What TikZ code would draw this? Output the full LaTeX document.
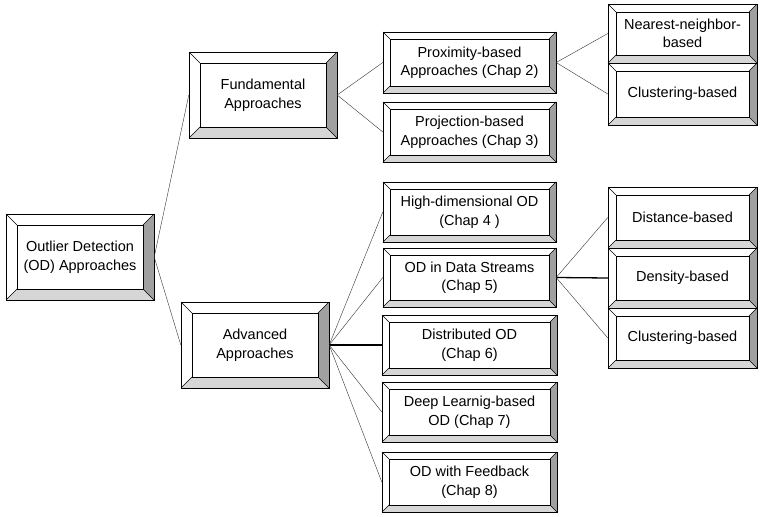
\documentclass[tikz,border=0pt]{standalone}
\usepackage{fontspec}
\setmainfont{Liberation Sans}
\usetikzlibrary{calc}
\definecolor{bevbot}{HTML}{D6D6D6}
\definecolor{bevright}{HTML}{A0A0A0}
\tikzset{
  boxline/.style={draw=black,line width=0.8pt,line join=miter},
  thinlink/.style={draw=black!80,line width=0.4pt},
  thicklink/.style={draw=black,line width=1.3pt},
  boxtext/.style={inner sep=0pt,align=center,font=\fontsize{14.5}{18.5}\selectfont}
}
% name, x1, y1, x2, y2, bevel, text
\newcommand\bevbox[7]{%
  \fill[white] (#2,#3) rectangle (#4,#5);
  \fill[bevbot] (#2,#5) -- (#4,#5) -- ({#4-#6},{#5-#6}) -- ({#2+#6},{#5-#6}) -- cycle;
  \fill[bevright] (#4,#3) -- (#4,#5) -- ({#4-#6},{#5-#6}) -- ({#4-#6},{#3+#6}) -- cycle;
  \draw[boxline] (#2,#3) rectangle (#4,#5);
  \draw[boxline] ({#2+#6},{#3+#6}) rectangle ({#4-#6},{#5-#6});
  \draw[boxline,line width=0.5pt] (#2,#3) -- ({#2+#6},{#3+#6})
     (#4,#3) -- ({#4-#6},{#3+#6})
     (#2,#5) -- ({#2+#6},{#5-#6})
     (#4,#5) -- ({#4-#6},{#5-#6});
  \node[boxtext,minimum width={(#4-#2)*1pt},minimum height={(#5-#3)*1pt}] (#1) at ({(#2+#4)/2},{(#3+#5)/2}) {#7};
}
\begin{document}
\begin{tikzpicture}[x=1pt,y=-1pt]
\useasboundingbox[fill=white] (0,0) rectangle (764,517);
\bevbox{root}{6}{214}{154}{300}{11}{Outlier Detection\\(OD) Approaches}
\bevbox{fund}{189}{52}{337}{138}{11}{Fundamental\\Approaches}
\bevbox{adv}{181}{302}{329}{388}{11}{Advanced\\Approaches}
\bevbox{prox}{383}{32}{556}{93}{7}{Proximity-based\\Approaches (Chap 2)}
\bevbox{proj}{383}{102}{556}{162}{7}{Projection-based\\Approaches (Chap 3)}
\bevbox{nn}{608}{4}{757}{63}{8}{Nearest-neighbor-\\based}
\bevbox{clusa}{608}{63}{757}{125}{8}{Clustering-based}
\bevbox{hd}{383}{182}{556}{242}{7}{High-dimensional OD\\(Chap 4 )}
\bevbox{ods}{383}{248}{556}{307}{7}{OD in Data Streams\\(Chap 5)}
\bevbox{dist}{382}{315}{557}{375}{7}{Distributed OD\\(Chap 6)}
\bevbox{deep}{382}{382}{557}{442}{7}{Deep Learnig-based\\OD (Chap 7)}
\bevbox{fb}{382}{452}{557}{512}{7}{OD with Feedback\\(Chap 8)}
\bevbox{distb}{608}{187}{757}{248}{8}{Distance-based}
\bevbox{dens}{608}{248}{757}{308}{8}{Density-based}
\bevbox{clusb}{608}{308}{757}{368}{8}{Clustering-based}
% connectors
\draw[thinlink] (root.east) -- (fund.west);
\draw[thinlink] (root.east) -- (adv.west);
\draw[thinlink] (fund.east) -- (prox.west);
\draw[thinlink] (fund.east) -- (proj.west);
\draw[thinlink] (prox.east) -- (nn.west);
\draw[thinlink] (prox.east) -- (clusa.west);
\draw[thinlink] (adv.east) -- (hd.west);
\draw[thinlink] (adv.east) -- (ods.west);
\draw[thicklink] (adv.east) -- (dist.west);
\draw[thinlink] (adv.east) -- (deep.west);
\draw[thinlink] (adv.east) -- (fb.west);
\draw[thinlink] (ods.east) -- (distb.west);
\draw[thicklink] (ods.east) -- (dens.west);
\draw[thinlink] (ods.east) -- (clusb.west);
\end{tikzpicture}
\end{document}
